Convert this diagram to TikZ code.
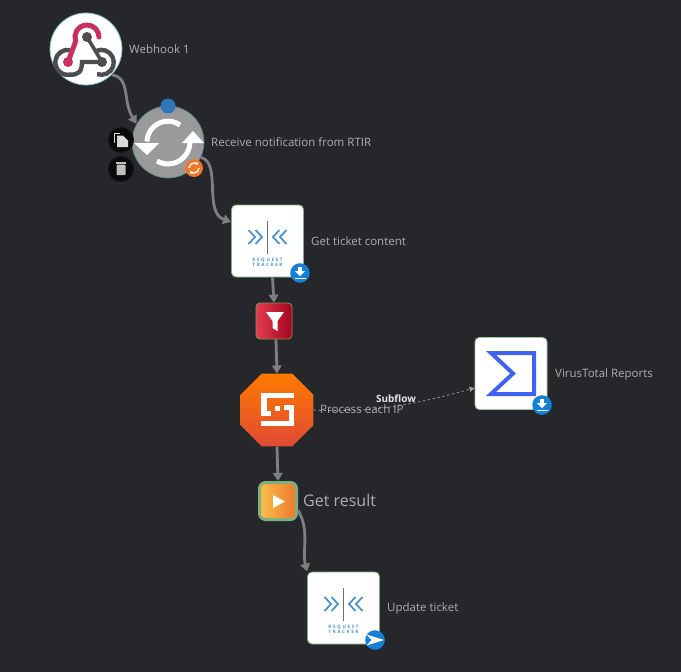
\documentclass[tikz,border=0pt]{standalone}
\usepackage{fontspec}
\setmainfont{Open Sans}
\usetikzlibrary{shapes.geometric,arrows.meta}
\definecolor{bgc}{HTML}{26272B}
\definecolor{lbl}{HTML}{ADAEB0}
\definecolor{edgec}{HTML}{7F7F7F}
\definecolor{grn}{HTML}{7FAE7F}
\definecolor{bluei}{HTML}{4A94CF}
\definecolor{badge}{HTML}{1580D6}
\definecolor{sumb}{HTML}{3F63F0}
\definecolor{hookr}{HTML}{C9305F}
\definecolor{hookd}{HTML}{4D4D50}
\definecolor{filta}{HTML}{E23C50}
\definecolor{filtb}{HTML}{A3041E}
\definecolor{octa}{HTML}{FF7A00}
\definecolor{octb}{HTML}{DE4A35}
\definecolor{resa}{HTML}{F9C04A}
\definecolor{resb}{HTML}{F0782C}
\definecolor{dotc}{HTML}{2F76B8}
\definecolor{syncb}{HTML}{F0772A}
\definecolor{syncg}{HTML}{9A9A9A}
\tikzset{
  lab/.style={text=lbl,anchor=west,inner sep=0pt,font=\fontsize{11.5}{13}\selectfont},
  flow/.style={draw=edgec,line width=2.8pt,-{Triangle[length=8pt,width=9.5pt]}},
  sub/.style={draw=edgec!75,line width=.7pt,dash pattern=on 2.5pt off 2.5pt,-{Triangle[length=5pt,width=5pt]}},
  tile/.style={draw=grn,line width=.8pt,fill=white,rounded corners=4.5pt,minimum size=72pt,inner sep=0pt},
  round1/.style={circle,fill=white,draw=#1,line width=.8pt,minimum size=72pt,inner sep=0pt},
  toolb/.style={circle,fill=black!75!bgc,draw=black!45!bgc,line width=1pt,minimum size=25pt,inner sep=0pt},
}
\newcommand{\rtlogo}[2]{%
  \begin{scope}[shift={(#1,#2)}]
    \draw[edgec!85!black,line width=1.8pt] (0,-20) -- (0,13);
    \draw[bluei,line width=1.8pt] (-19,-11) -- (-12.5,-4) -- (-19,3) (-12,-11) -- (-5.5,-4) -- (-12,3);
    \draw[bluei,line width=1.8pt] (19,-11) -- (12.5,-4) -- (19,3) (12,-11) -- (5.5,-4) -- (12,3);
    \node[text=bluei,inner sep=0pt,align=center,font=\fontsize{4.6}{5}\selectfont\bfseries\addfontfeatures{LetterSpace=35}] at (0,21) {REQUEST\\TRACKER};
  \end{scope}}
\newcommand{\dlbadge}[2]{%
  \begin{scope}[shift={(#1,#2)}]
    \fill[badge] (0,0) circle (9.8);
    \fill[white] (-2.2,-6) rectangle (2.2,-1.5);
    \fill[white] (-5,-1.8) -- (5,-1.8) -- (0,3) -- cycle;
    \draw[white,line width=1.2pt] (-5.5,5.2) -- (5.5,5.2);
  \end{scope}}
\begin{document}
\begin{tikzpicture}[x=1pt,y=-1pt]
\useasboundingbox[fill=bgc] (0,0) rectangle (681,672);

% nodes
\node[round1=teal!50!white] (hook) at (86,49) {};
\node[circle,fill=syncg,draw=teal!35!gray,line width=.7pt,minimum size=72pt,inner sep=0pt] (sync) at (168,142) {};
\node[tile] (ticket) at (267.5,241) {};
\node[rounded corners=4pt,draw=gray!70!olive,line width=.8pt,left color=filta,right color=filtb,minimum size=36pt,inner sep=0pt] (filt) at (274,321) {};
\node[regular polygon,regular polygon sides=8,minimum size=79pt,inner sep=0pt,outer sep=0pt,top color=octa,bottom color=octb] (proc) at (277,410) {};
\node[tile,draw=grn!70!white] (vt) at (511,373.5) {};
\node[rounded corners=6pt,draw=grn,line width=3pt,left color=resa,right color=resb,minimum size=37pt,inner sep=0pt] (res) at (278,501) {};
\node[tile] (upd) at (343.5,608) {};

% connectors
\draw[flow] (hook.-45) .. controls (131,78) and (122,100) .. (sync.150);
\draw[flow] (sync.-25) .. controls (222,163) and (203,212) .. (ticket.west |- 0,222);
\draw[flow] (ticket.south) ++(5,0) coordinate (tb) (tb) -- (filt.north);
\draw[flow] (filt.south) ++(2,0) coordinate (fb) (fb) -- (proc.north);
\draw[flow] (proc.south) -- (res.north);
\draw[flow] (res.-25) .. controls (310,530) and (302,552) .. (upd.north west);
\draw[sub] (proc.east) .. controls (360,412) and (395,410) .. (vt.west |- 0,388);

% webhook logo
\draw[hookd,line width=4.4pt] (70,50) arc[start angle=-80,end angle=-280,radius=12.5] .. controls (78,75) and (82,72) .. (82,62) -- (102,62);
\draw[hookd,line width=4.4pt] (96,51) arc[start angle=-115,end angle=110,radius=12.5];
\draw[hookd,line width=3.6pt] (87,37) -- (102,62);
\fill[hookd] (87,37) circle (5) (102,62) circle (5);
\draw[hookr,line width=5pt,line cap=round] (99,37) arc[start angle=0,end angle=-200,radius=12] -- (68,62);
\fill[hookr] (68,62) circle (5);

% sync icon
\draw[white,line width=5pt] (180,125) arc[start angle=-55,end angle=-178,radius=21];
\fill[white] (134,143) -- (159,143) -- (147,155) -- cycle;
\draw[white,line width=5pt] (157,161) arc[start angle=120,end angle=2,radius=22];
\fill[white] (182,143) -- (204,143) -- (193,131) -- cycle;
\node[circle,fill=dotc,minimum size=15pt,inner sep=0pt] (dot) at (168,106) {};
% sync badge
\fill[syncb] (194,168) circle (9);
\draw[white,line width=1.3pt,-{Triangle[length=2.5pt,width=3.5pt]}] (189,168) arc[start angle=180,end angle=320,radius=5];
\draw[white,line width=1.3pt,-{Triangle[length=2.5pt,width=3.5pt]}] (199,168) arc[start angle=0,end angle=140,radius=5];

% toolbar buttons
\node[toolb] (copyb) at (121,140) {};
\node[toolb] (delb) at (121,169) {};
\draw[white!85!black,line width=.8pt] (114.5,133) -- (120,133) (114.5,133) -- (114.5,143);
\fill[white!85!black] (117,135.5) -- (123,135.5) -- (128,140.5) -- (128,147) -- (117,147) -- cycle;
\fill[white!75!black,rounded corners=1pt] (116.5,164.5) rectangle (125.5,175);
\fill[white!75!black] (116,162) rectangle (126,163.5);

% tile icons
\rtlogo{267.5}{241}
\dlbadge{300}{273}
\rtlogo{343.5}{608}
\fill[badge] (375,640) circle (9.8);
\fill[white] (366.5,634.5) -- (384,640) -- (366.5,645.5) -- (371.5,640) -- cycle;

% filter icon
\fill[white] (266,312) -- (284,312) -- (277.5,321) -- (277.5,331) -- (272.5,328) -- (272.5,321) -- cycle;

% process icon
\fill[white] (261,393) rectangle (294,398);
\fill[white] (261,393) rectangle (266.5,416);
\fill[white] (261,411) rectangle (271,416);
\fill[white] (261,420.5) rectangle (294,426);
\fill[white] (288.5,405) rectangle (294,426);
\fill[white] (283.5,405) rectangle (294,410);
\fill[white] (275,406) rectangle (280,411);

% sum icon
\draw[sumb,line width=4pt,miter limit=8] (534,353) -- (491,353) -- (513,373.5) -- (491,394) -- (534,394) -- cycle;
\dlbadge{542}{405}

% play
\fill[white] (273,495) -- (273,508) -- (285,501.5) -- cycle;

% labels
\node[lab] (t1) at (129,49) {Webhook 1};
\node[lab] (t2) at (211,142) {Receive notification from RTIR};
\node[lab] (t3) at (311,241) {Get ticket content};
\node[lab,font=\fontsize{11.6}{14}\selectfont] (t4) at (320,409) {Process each IP};
\node[lab] (t5) at (555,374.5) {VirusTotal Reports};
\node[lab,font=\fontsize{16}{19}\selectfont] (t6) at (303,500) {Get result};
\node[lab] (t7) at (387,608.5) {Update ticket};
\node[text=white!90!black,inner sep=0pt,font=\fontsize{10}{12}\selectfont\bfseries] (t8) at (396,399) {Subflow};
\end{tikzpicture}
\end{document}
